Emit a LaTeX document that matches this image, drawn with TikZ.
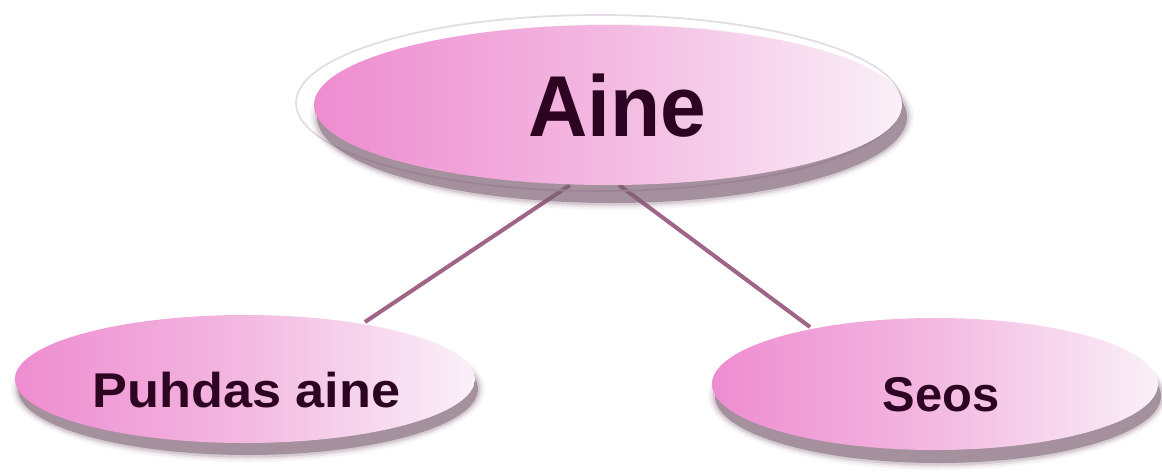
\documentclass[tikz,border=0pt]{standalone}
\usepackage{graphicx}
\usepackage{fontspec}
\setmainfont{Liberation Sans}
\usetikzlibrary{shapes.geometric}
\definecolor{pinkL}{RGB}{238,140,208}
\definecolor{pinkM}{RGB}{243,185,225}
\definecolor{pinkR}{RGB}{250,240,248}
\definecolor{shad}{RGB}{125,95,115}
\definecolor{linec}{RGB}{160,100,135}
\definecolor{txt}{RGB}{45,5,35}
\definecolor{rim}{RGB}{228,220,228}
\tikzset{
  bubble/.style={ellipse, inner sep=0pt, left color=pinkL, right color=pinkR, middle color=pinkM},
  link/.style={draw=linec, line width=1.15pt},
  shadowlayer/.style={fill=shad, opacity=#1},
  lbl/.style={text=txt, anchor=base, inner sep=0pt, font=\bfseries},
}
\begin{document}
\begin{tikzpicture}
\useasboundingbox (0,0) rectangle (11.62,4.72);
% connectors (behind)
\coordinate (a1) at (5.70,2.87);
\coordinate (a2) at (6.19,2.87);
\coordinate (p1) at (3.65,1.50);
\coordinate (s1) at (8.10,1.45);
\draw[link] (a1) -- (p1);
\draw[link] (a2) -- (s1);
% rim of top bubble
\draw[rim, line width=0.5pt] (5.99,3.69) ellipse (3.03 and 0.88);
% soft shadows
\foreach \o/\d in {0.07/0.07,0.11/0.045,0.18/0.025,0.55/0}{
  \fill[shadowlayer=\o] (6.12,3.55) ellipse ({2.95+\d} and {0.86+\d});
  \fill[shadowlayer=\o] (2.48,0.83) ellipse ({2.30+\d} and {0.66+\d});
  \fill[shadowlayer=\o] (9.38,0.76) ellipse ({2.23+\d} and {0.67+\d});
}
\node[bubble, minimum width=5.88cm, minimum height=1.60cm] (aine) at (6.08,3.67) {};
\node[bubble, minimum width=4.60cm, minimum height=1.28cm] (puhdas) at (2.45,0.93) {};
\node[bubble, minimum width=4.46cm, minimum height=1.32cm] (seos) at (9.35,0.88) {};
\node[lbl, font=\bfseries\fontsize{24.6}{28}\selectfont] (taine) at (6.175,3.36) {\scalebox{0.95}[1]{Aine}};
\node[lbl, font=\bfseries\fontsize{13.9}{16}\selectfont] (tpuhdas) at (2.465,0.65) {\scalebox{1.07}[1]{Puhdas aine}};
\node[lbl, font=\bfseries\fontsize{13.9}{16}\selectfont] (tseos) at (9.41,0.61) {Seos};
\end{tikzpicture}
\end{document}
